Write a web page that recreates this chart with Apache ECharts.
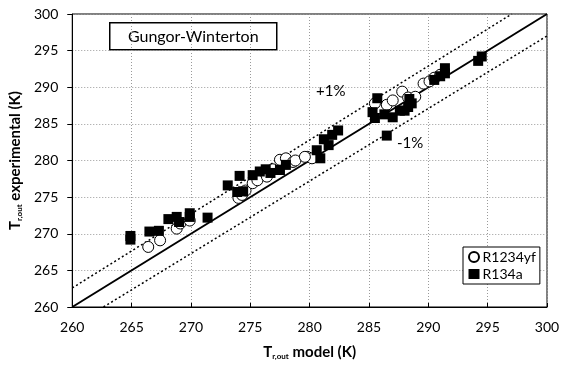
<!DOCTYPE html>
<html>
<head>
<meta charset="utf-8">
<script src="https://cdn.jsdelivr.net/npm/echarts@6/dist/echarts.min.js"></script>
<style>html,body{margin:0;padding:0;background:#fff}#c{width:565px;height:367px}</style>
</head>
<body>
<div id="c"></div>
<script>
var xTicks = [260, 265, 270, 275, 280, 285, 290, 295, 300];
var yTicks = [260, 265, 270, 275, 280, 285, 290, 295, 300];
var seriesNames = ['R1234yf', 'R134a'];
var r1234yf = [
  [266.4,268.2],[267.4,269.1],[268.8,270.7],[269.1,271.4],[269.9,271.8],
  [274.0,274.9],[274.3,275.3],[274.6,275.9],[275.2,276.9],[275.6,277.3],
  [276.4,277.8],[276.9,278.8],[277.5,280.1],[278.0,280.3],[278.6,279.8],
  [279.8,280.5],[280.2,280.3],[278.8,280.0],[279.6,280.5],
  [285.5,287.8],[286.5,287.6],[287.0,288.2],[287.8,289.4],[288.3,288.6],
  [288.9,288.7],[289.6,290.5],[290.1,290.8],[290.5,291.3],[291.0,291.7]
];
var r134a = [
  [264.9,269.7],[264.9,269.2],[266.5,270.3],[267.3,270.4],[268.1,272.0],
  [268.8,272.3],[269.0,271.6],[269.9,272.8],[269.9,272.3],[271.4,272.2],
  [273.1,276.6],[273.9,275.7],[274.1,277.9],[274.4,275.8],[275.2,278.0],
  [275.8,278.5],[276.3,278.8],[276.7,278.3],[277.5,278.7],[278.0,279.4],
  [280.6,281.4],[280.9,280.3],[281.6,282.1],[281.9,283.5],[282.4,284.1],
  [281.2,282.9],[285.3,286.6],[285.7,288.5],[285.5,285.8],[286.3,286.3],
  [286.5,283.4],[287.0,285.9],[287.6,286.8],[288.0,286.8],[288.4,288.4],
  [288.6,287.8],[288.3,287.3],[290.5,291.0],[291.0,291.5],[291.4,291.9],
  [291.4,292.6],[294.2,293.6],[294.5,294.2]
];
var parityLine = [[260,260],[300,300]];
var plus1Line = [[260,262.6],[297.03,300]];
var minus1Line = [[262.63,260],[300,297]];
var labelPlus = '+1%';
var labelMinus = '-1%';
var boxTitle = 'Gungor-Winterton';

var FONT = 'Lato, "Open Sans", sans-serif';
var chart = echarts.init(document.getElementById('c'));
var nameRich = {
  b: {fontFamily: FONT, fontWeight: 'bold', fontSize: 15, color: '#000'},
  s: {fontFamily: FONT, fontWeight: 'bold', fontSize: 8, color: '#000', verticalAlign: 'bottom', padding: [6,0,0,0]}
};
chart.setOption({
  animation: false,
  grid: {left: 72, right: 18, top: 14, bottom: 60, show: true, borderColor: '#000', borderWidth: 1, backgroundColor: 'transparent'},
  xAxis: {
    type: 'value', min: xTicks[0], max: xTicks[xTicks.length-1], interval: 5,
    axisLine: {lineStyle: {color: '#000', width: 1}},
    axisTick: {inside: true, length: 4, lineStyle: {color: '#000'}},
    axisLabel: {fontFamily: FONT, fontSize: 14, color: '#000', margin: 13},
    splitLine: {show: true, lineStyle: {color: '#9a9a9a', type: [1,2], width: 1}},
    name: '{b|T}{s|r,out}{b| model (K)}', nameLocation: 'middle', nameGap: 38,
    nameTextStyle: {rich: nameRich}
  },
  yAxis: {
    type: 'value', min: yTicks[0], max: yTicks[yTicks.length-1], interval: 5,
    axisLine: {show: true, lineStyle: {color: '#000', width: 1}},
    axisTick: {show: true, inside: false, length: 5, lineStyle: {color: '#000'}},
    axisLabel: {fontFamily: FONT, fontSize: 14, color: '#000', margin: 14},
    splitLine: {show: true, lineStyle: {color: '#9a9a9a', type: [1,2], width: 1}},
    name: '{b|T}{s|r,out}{b| experimental (K)}', nameLocation: 'middle', nameGap: 43, nameRotate: 90,
    nameTextStyle: {rich: nameRich}
  },
  legend: {
    left: 463, top: 247, orient: 'vertical',
    data: seriesNames,
    borderColor: '#000', borderWidth: 1, padding: [3, 4, 3, 5], backgroundColor: '#fff',
    itemWidth: 11, itemHeight: 10, itemGap: 3,
    textStyle: {fontFamily: FONT, fontSize: 14, color: '#000', padding: [0,0,0,-2]}
  },
  series: [
    {type: 'line', data: parityLine, symbol: 'none', lineStyle: {color: '#000', width: 2}, silent: true, z: 1},
    {type: 'line', data: plus1Line, symbol: 'none', lineStyle: {color: '#000', width: 1.5, type: [2,2.5]}, silent: true, z: 1},
    {type: 'line', data: minus1Line, symbol: 'none', lineStyle: {color: '#000', width: 1.5, type: [2,2.5]}, silent: true, z: 1},
    {name: seriesNames[0], type: 'scatter', data: r1234yf, symbol: 'circle', symbolSize: 11,
     itemStyle: {color: '#fff', borderColor: '#000', borderWidth: 1, opacity: 1}, z: 3},
    {name: seriesNames[1], type: 'scatter', data: r134a, symbol: 'rect', symbolSize: 10,
     itemStyle: {color: '#000', opacity: 1}, z: 4}
  ],
  graphic: [
    {type: 'group', left: 109, top: 22, z: 10, children: [
      {type: 'rect', shape: {x: 0, y: 0, width: 167, height: 27}, style: {fill: '#fff', stroke: '#000', lineWidth: 1.5}},
      {type: 'text', x: 83.5, y: 14, style: {text: boxTitle, fontFamily: FONT, fontSize: 16, fill: '#000', align: 'center', verticalAlign: 'middle'}}
    ]},
    {type: 'text', left: 316, top: 84, z: 10, style: {text: labelPlus, fontFamily: FONT, fontSize: 15, fill: '#000'}},
    {type: 'text', left: 397, top: 136, z: 10, style: {text: labelMinus, fontFamily: FONT, fontSize: 15, fill: '#000'}}
  ]
});
</script>
</body>
</html>
